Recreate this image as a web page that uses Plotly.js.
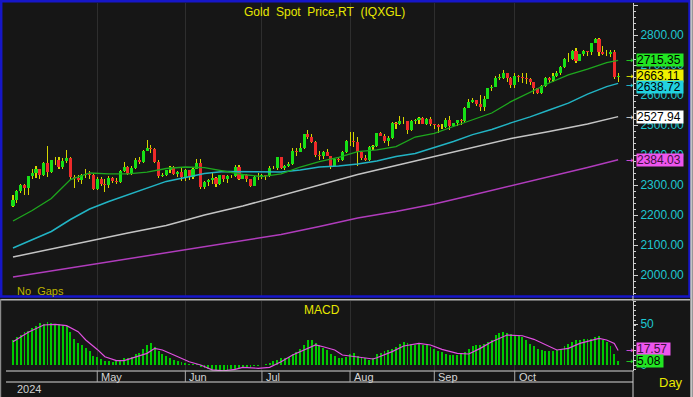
<!DOCTYPE html>
<html><head><meta charset="utf-8">
<script src="https://cdn.plot.ly/plotly-3.0.1.min.js"></script>
<style>html,body{margin:0;padding:0;background:#161616;overflow:hidden}#chart{width:693px;height:397px}</style>
</head><body><div id="chart"></div>
<script>
const W = 693, H = 397;
// month start positions (trading-day index, first bar = 1 Apr 2024)
const monthIdx = [22, 45, 65, 88, 110, 131];
const monthNames = ['May', 'Jun', 'Jul', 'Aug', 'Sep', 'Oct'];
const yearLabel = '2024';

const opens = [2229,2250,2280,2300,2290,2329,2339,2352,2333,2372,2344,2383,2383,2361,2379,2391,2327,2322,2316,2332,2337,2335,
2286,2320,2303,2301,2323,2314,2309,2346,2360,2336,2358,2385,2376,2415,2425,2421,2378,2329,2334,2350,2361,2338,2343,
2327,2349,2327,2355,2375,2294,2311,2316,2325,2303,2333,2319,2329,2329,2360,2321,2334,2319,2298,2327,
2326,2332,2330,2356,2356,2392,2358,2364,2371,2415,2411,2422,2469,2459,2445,2400,2396,2409,2397,2364,2387,2384,2410,
2447,2446,2443,2409,2390,2382,2427,2431,2472,2465,2447,2456,2507,2504,2514,2512,2484,2512,2518,2524,2504,2521,
2503,2500,2493,2495,2516,2497,2506,2516,2512,2558,2578,2582,2570,2559,2587,2622,2628,2657,2657,2672,2658,
2634,2662,2659,2656,2653,2644,2622,2608,2631,2657,2649,2662,2674,2693,2721,2719,2748,2715,2736,2747,2742,2774,2788,
2744,2736,2736,2742,2659];
const highs = [2266,2282,2305,2305,2330,2354,2365,2354,2378,2431,2385,2393,2393,2390,2417,2393,2335,2332,2338,2353,2347,2338,
2326,2326,2320,2331,2327,2324,2351,2378,2364,2362,2389,2393,2418,2450,2432,2422,2383,2340,2351,2363,2364,2348,2360,
2353,2351,2358,2388,2387,2313,2319,2342,2327,2333,2335,2333,2332,2366,2368,2337,2336,2321,2330,2339,
2337,2335,2365,2363,2393,2393,2366,2376,2425,2425,2440,2469,2483,2470,2446,2412,2412,2421,2398,2390,2392,2412,2451,
2477,2477,2461,2414,2400,2431,2435,2475,2477,2471,2462,2509,2510,2531,2528,2514,2517,2521,2528,2527,2523,2526,
2504,2503,2504,2523,2529,2508,2517,2520,2560,2586,2589,2585,2600,2597,2625,2633,2664,2670,2685,2675,2660,
2673,2666,2672,2674,2658,2645,2623,2634,2661,2659,2673,2680,2696,2722,2740,2749,2758,2737,2750,2748,2775,2790,2790,
2763,2750,2750,2749,2672];
const lows = [2228,2239,2273,2268,2267,2320,2325,2319,2330,2326,2340,2366,2355,2355,2372,2321,2291,2309,2305,2324,2321,2285,
2282,2297,2277,2291,2308,2304,2306,2343,2333,2334,2354,2370,2373,2412,2407,2374,2325,2326,2330,2340,2334,2326,2314,
2315,2316,2321,2353,2287,2286,2298,2302,2295,2300,2311,2306,2323,2326,2316,2319,2310,2293,2296,2318,
2319,2318,2326,2352,2350,2353,2350,2359,2366,2398,2410,2420,2453,2440,2393,2384,2388,2397,2353,2364,2378,2380,2406,
2430,2428,2364,2382,2379,2381,2417,2428,2462,2440,2431,2453,2488,2500,2502,2470,2481,2505,2505,2502,2500,2497,
2488,2472,2486,2490,2485,2494,2498,2500,2510,2557,2573,2562,2547,2547,2586,2615,2627,2650,2654,2643,2625,
2624,2645,2641,2636,2635,2605,2604,2603,2628,2640,2643,2660,2668,2690,2711,2718,2708,2712,2729,2731,2735,2772,2730,
2732,2730,2726,2652,2643];
const closes = [2250,2280,2300,2290,2329,2339,2352,2333,2372,2344,2383,2383,2361,2379,2391,2327,2322,2316,2332,2337,2335,2286,
2320,2303,2301,2323,2314,2309,2346,2360,2336,2358,2385,2376,2415,2425,2421,2378,2329,2334,2350,2361,2338,2343,2327,
2349,2327,2355,2375,2294,2311,2316,2325,2303,2333,2319,2329,2329,2360,2321,2334,2319,2298,2327,2326,
2332,2330,2356,2356,2392,2358,2364,2371,2415,2411,2422,2469,2459,2445,2400,2396,2409,2397,2364,2387,2384,2410,2447,
2446,2443,2409,2390,2382,2427,2431,2472,2465,2447,2456,2507,2504,2514,2512,2484,2512,2518,2524,2504,2521,2503,
2500,2493,2495,2516,2497,2506,2516,2512,2558,2578,2582,2570,2559,2587,2622,2628,2657,2657,2672,2658,2634,
2662,2659,2656,2653,2644,2622,2608,2631,2657,2649,2662,2674,2693,2721,2719,2748,2715,2736,2747,2742,2774,2788,2744,
2736,2736,2742,2659,2663.11];

// moving averages
const maIdx = [0,5,10,15,20,25,30,35,40,45,50,55,60,65,70,75,80,85,90,95,100,105,110,115,120,125,130,135,140,145,150,155,158];
const maGreen = [2180,2215,2255,2318,2340,2337,2337,2343,2355,2360,2358,2347,2335,2328,2337,2360,2378,2392,2411,2417,2428,2460,2472,2495,2518,2540,2578,2610,2640,2667,2686,2708,2715.35];
const maCyan = [2090,2118,2145,2185,2220,2245,2268,2290,2312,2325,2338,2345,2345,2343,2343,2350,2360,2363,2370,2380,2395,2405,2425,2445,2468,2485,2507,2527,2550,2573,2603,2628,2638.72];
const slowIdx = [0,10,20,30,40,50,60,70,80,90,100,110,120,130,140,150,158];
const maWhite = [2060,2087,2113,2140,2165,2200,2230,2265,2300,2335,2365,2395,2425,2455,2478,2503,2527.94];
const maMagenta = [1993,2013,2033,2053,2073,2093,2113,2135,2162,2190,2212,2237,2267,2297,2328,2358,2384.03];

// MACD
const macdHist = [31,34,37,40,42,45,48,51,50,52, 51,50,50,49,47,40,32,27,24,21, 17,11,10,7,5,4.5,4,5.3,6,8,
9,10,13,15,20,24,27,22,17,14, 11,8,6,4.5,3.5,2.5,1.5,1,1.5,-2.8, -4,-5,-6,-6.5,-7,-7,-6,-5,-5,-3.7,
-3,-2,-2.5,-1.5,-1,-0.5,1,2,4.9,6, 8.5,9,10,14,16,19,24,30,30.5,27, 24,21,18,13,11,8,8,10,14,14.5,
11,9,8,6,9,13,15,16.5,18,20, 22,26,28,27,26,25,26,25,24,22, 20,17,16,14,12,12,12,13,16,19,
23,24,24.4,26,28,31,36,39,40.6,39, 38,36.6,35,34,31,26,23,19,18,17.5, 17.5,17.5,18.5,20,23,26,28,30,31,32,
31.7,32,34,35,30,28,23,14,5.08];
const sigIdx = [0,4,8,11,14,17,19,22,24,27,29,31,35,37,39,42,46,49,52,55,58,60,64,67,70,73,77,79,81,84,86,88,91,94,95,99,102,106,109,112,116,119,122,125,129,133,136,140,142,145,148,153,155,157,158];
const sigVal = [28.4,40,48.8,49.5,48,40.6,30.5,19,10,5.3,5.3,8,14.2,20.3,18.3,12.2,4,0,-6,-7,-5.3,-2.8,-4,-2.8,4,12.2,20.3,24.4,22.3,18.3,12.2,11,10,7.3,8.9,16.3,23.2,26.4,24.4,19,14.2,13.4,20.3,28.4,36.6,35.7,31.3,22.3,18.3,20.3,26.4,32.5,30.5,26.4,17.57];

const px = x => x / W, py = y => 1 - y / H;
const idx = closes.map((_, i) => i);
const last = a => a[a.length - 1];

const FONT = 'Liberation Sans, Arial, sans-serif';
const GRID = '#2e2e2e';
const AXC = '#cfcfcf';
const CYAN_T = '#1ec8d2';

const traces = [
  { type: 'bar', x: idx, base: lows, y: highs.map((h, i) => h - lows[i]), width: 0.28,
    marker: { color: '#d6d600', line: { width: 0 } }, xaxis: 'x', yaxis: 'y', hoverinfo: 'skip' },
  { type: 'bar', x: idx, base: opens.map((o, i) => Math.min(o, closes[i])),
    y: opens.map((o, i) => Math.max(Math.abs(closes[i] - o), 1.5)), width: 0.8,
    marker: { color: opens.map((o, i) => closes[i] >= o ? '#16e016' : '#ee2a2a'), line: { width: 0 } },
    xaxis: 'x', yaxis: 'y', hoverinfo: 'skip' },
  { type: 'scatter', mode: 'lines', x: slowIdx, y: maMagenta, line: { color: '#b03cbc', width: 1.5 }, xaxis: 'x', yaxis: 'y' },
  { type: 'scatter', mode: 'lines', x: slowIdx, y: maWhite, line: { color: '#c4c4c4', width: 1.5 }, xaxis: 'x', yaxis: 'y' },
  { type: 'scatter', mode: 'lines', x: maIdx, y: maCyan, line: { color: '#22b4c4', width: 1.5 }, xaxis: 'x', yaxis: 'y' },
  { type: 'scatter', mode: 'lines', x: maIdx, y: maGreen, line: { color: '#1ea81e', width: 1.3 }, xaxis: 'x', yaxis: 'y' },
  { type: 'bar', x: idx, y: macdHist, width: 0.5, marker: { color: '#00c800', line: { width: 0 } }, xaxis: 'x2', yaxis: 'y2' },
  { type: 'scatter', mode: 'lines', x: sigIdx, y: sigVal, line: { color: '#e050e0', width: 1.2 }, xaxis: 'x2', yaxis: 'y2' }
];

const xr = [(6 - 13) / 3.83, (633 - 13) / 3.83];
const mainRange = [2000 - (296 - 275) / 0.3, 2000 + (275 - 3) / 0.3];
const macdRange = [-(371 - 365) / 0.82, (365 - 301) / 0.82];
const mainDom = [py(296), py(3)];
const macdDom = [py(371), py(301)];

const ann = [];
function txt(x, y, t, color, size, anchor) {
  ann.push({ xref: 'paper', yref: 'paper', x: px(x), y: py(y), text: t, showarrow: false,
    xanchor: anchor || 'left', yanchor: 'middle', font: { family: FONT, size: size, color: color } });
}
txt(242, 12, 'Gold\u00a0 Spot\u00a0 Price,RT\u00a0 (IQXGL)', '#e8e800', 12);
txt(15, 291, 'No\u00a0 Gaps', '#bdb400', 11);
txt(302, 310, 'MACD', '#e8e800', 12);
txt(15, 389, yearLabel, '#d0d0d0', 11);
txt(657, 382, 'Day', '#e8e800', 13);
monthIdx.forEach((m, i) => {
  ann.push({ xref: 'x', yref: 'paper', x: m, xshift: 2, y: py(377), text: monthNames[i], showarrow: false,
    xanchor: 'left', yanchor: 'middle', font: { family: FONT, size: 11, color: '#d4d4d4' } });
});
function box(yref, val, bg, fg, shift, arrowColor, w) {
  ann.push({ xref: 'paper', yref: yref, x: px(636), y: val, yshift: shift || 0, text: (Math.round(val * 100) / 100).toFixed(2),
    showarrow: false, xanchor: 'left', yanchor: 'middle', bgcolor: bg, borderpad: 0, height: 12, width: w || 46, align: 'left',
    font: { family: FONT, size: 12, color: fg } });
  ann.push({ xref: 'paper', yref: yref, x: px(624), y: val, yshift: (shift || 0) / 2, text: '→', showarrow: false,
    xanchor: 'left', yanchor: 'middle', font: { family: 'DejaVu Sans', size: 9, color: arrowColor } });
}
box('y', last(maGreen), '#22e622', '#000', 0, '#22e622');
box('y', last(closes), '#f0f000', '#000', 0, '#f0f000');
box('y', last(maCyan), '#22d2e0', '#000', -4, '#22d2e0');
box('y', last(maWhite), '#ffffff', '#000', 0, '#e0e0e0');
box('y', last(maMagenta), '#ee55ee', '#401040', 0, '#ee55ee');
box('y2', last(sigVal), '#ee55ee', '#401040', 2, '#ee55ee', 33);
box('y2', last(macdHist), '#22e622', '#000', 0, '#22e622', 26);

const shapes = [];
function line(x0, y0, x1, y1, color, w, xref) {
  shapes.push({ type: 'line', xref: xref || 'paper', yref: 'paper', x0: xref ? x0 : px(x0), x1: xref ? x1 : px(x1),
    y0: py(y0), y1: py(y1), line: { color: color, width: w } });
}
shapes.push({ type: 'rect', xref: 'paper', yref: 'paper', x0: px(1.2), x1: px(689.5), y0: py(1.2), y1: py(296.5),
  line: { color: '#1616c8', width: 2.5 } });
line(0, 299.7, 690, 299.7, '#b8b8b8', 1.5);
line(691.5, 0, 691.5, 397, '#c4c4c4', 2.5);
line(0.6, 299, 0.6, 397, '#8a8a8a', 1.2);
line(6, 371, 633, 371, '#d8d8d8', 1);
line(6, 382, 633, 382, '#d8d8d8', 1);
line(633, 296, 633, 301, AXC, 1);
line(633, 371, 633, 397, AXC, 1);
monthIdx.forEach(m => line(m, 371, m, 382, '#a8a8a8', 1, 'x'));

const layout = {
  width: W, height: H, margin: { l: 0, r: 0, t: 0, b: 0 },
  paper_bgcolor: '#161616', plot_bgcolor: '#161616',
  showlegend: false, hovermode: false, barmode: 'overlay', bargap: 0,
  xaxis: { domain: [px(6), px(633)], range: xr, anchor: 'y', tickmode: 'array', tickvals: monthIdx,
    showticklabels: false, ticks: '', showgrid: true, gridcolor: GRID, gridwidth: 1, zeroline: false, showline: false },
  xaxis2: { domain: [px(6), px(633)], range: xr, anchor: 'y2', matches: 'x', tickmode: 'array', tickvals: monthIdx,
    showticklabels: false, ticks: '', showgrid: true, gridcolor: GRID, zeroline: false, showline: false },
  yaxis: { domain: mainDom, range: mainRange, anchor: 'x', side: 'right', tickmode: 'linear', tick0: 2000, dtick: 100,
    tickformat: '.2f', showgrid: false, zeroline: false, showline: true, linecolor: AXC, linewidth: 1,
    ticks: 'outside', ticklen: 4, tickcolor: AXC, minor: { dtick: 20, ticks: 'outside', ticklen: 2, tickcolor: AXC, showgrid: false },
    tickfont: { family: FONT, size: 12, color: CYAN_T } },
  yaxis3: { overlaying: 'y', anchor: 'x', side: 'left', range: mainRange, tickmode: 'linear', tick0: 2000, dtick: 200,
    showgrid: true, gridcolor: GRID, zeroline: false, showline: true, linecolor: AXC, showticklabels: false,
    ticks: 'inside', ticklen: 5, tickcolor: AXC, minor: { dtick: 100 / 3, ticks: 'inside', ticklen: 3, tickcolor: AXC, showgrid: false } },
  yaxis2: { domain: macdDom, range: macdRange, anchor: 'x2', side: 'right', tickmode: 'array', tickvals: [0, 50], ticktext: ['0', '50'],
    showgrid: false, zeroline: false, showline: true, linecolor: AXC, ticks: 'outside', ticklen: 4, tickcolor: AXC,
    minor: { dtick: 6, ticks: 'outside', ticklen: 2, tickcolor: AXC, showgrid: false },
    tickfont: { family: FONT, size: 12, color: CYAN_T } },
  yaxis4: { overlaying: 'y2', anchor: 'x2', side: 'left', range: macdRange, tickmode: 'linear', tick0: 0, dtick: 25,
    showgrid: false, zeroline: false, showline: true, linecolor: AXC, showticklabels: false, ticks: 'inside', ticklen: 5, tickcolor: AXC,
    minor: { dtick: 6.25, ticks: 'inside', ticklen: 3, tickcolor: AXC, showgrid: false } },
  annotations: ann, shapes: shapes
};
Plotly.newPlot('chart', traces, layout, { staticPlot: true, displayModeBar: false });
</script></body></html>
